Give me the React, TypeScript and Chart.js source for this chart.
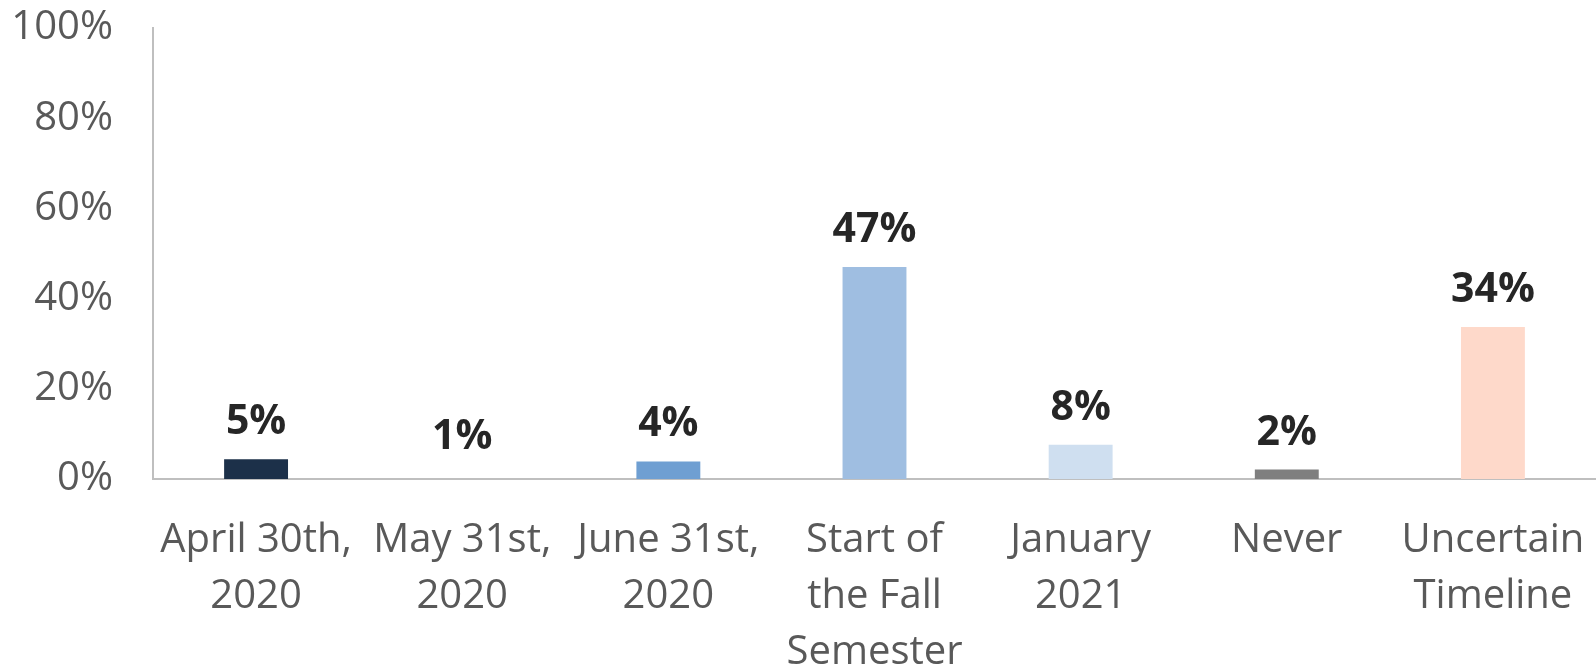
import React, { useEffect, useRef } from "react";
import { Chart, registerables } from "chart.js";

Chart.register(...registerables);

const categories: string[][] = [
  ["April 30th,", "2020"],
  ["May 31st,", "2020"],
  ["June 31st,", "2020"],
  ["Start of", "the Fall", "Semester"],
  ["January", "2021"],
  ["Never"],
  ["Uncertain", "Timeline"],
];
const values: number[] = [4.4, 1, 3.9, 47, 7.6, 2.1, 33.7];
const valueLabels: string[] = ["5%", "1%", "4%", "47%", "8%", "2%", "34%"];
const barColors: string[] = [
  "#1c3049",
  "rgba(255,255,255,0)",
  "#6f9fd2",
  "#9fbee1",
  "#cfdff0",
  "#7f7f7f",
  "#fed9ca",
];
const yTicks = { min: 0, max: 100, step: 20 };

const FONT = "'Open Sans', 'Noto Sans', sans-serif";

export default function App() {
  const ref = useRef<HTMLCanvasElement | null>(null);

  useEffect(() => {
    document.body.style.margin = "0";
    if (!ref.current) return;
    const labelPlugin = {
      id: "valueLabels",
      afterDatasetsDraw(chart: any) {
        const ctx = chart.ctx;
        const meta = chart.getDatasetMeta(0);
        ctx.save();
        ctx.font = `bold 41px ${FONT}`;
        ctx.fillStyle = "#262626";
        ctx.textAlign = "center";
        ctx.textBaseline = "alphabetic";
        meta.data.forEach((el: any, i: number) => {
          ctx.fillText(valueLabels[i], el.x, el.y - 25);
        });
        ctx.restore();
      },
    };
    const chart = new Chart(ref.current, {
      type: "bar",
      data: {
        labels: categories,
        datasets: [
          {
            data: values,
            backgroundColor: barColors,
            barPercentage: 0.31,
            categoryPercentage: 1,
          },
        ],
      },
      options: {
        animation: false,
        responsive: true,
        maintainAspectRatio: false,
        layout: { padding: { top: 28, right: 0, left: 0, bottom: 0 } },
        plugins: { legend: { display: false }, tooltip: { enabled: false } },
        scales: {
          x: {
            grid: { display: false, drawTicks: false },
            border: { display: true, color: "#bfbfbf", width: 2 },
            ticks: {
              color: "#595959",
              font: { family: FONT, size: 40, lineHeight: 1.4 },
              padding: 34,
              maxRotation: 0,
              autoSkip: false,
            },
            afterFit: (s: any) => {
              s.height = 192;
              s.paddingLeft = 0;
              s.paddingRight = 0;
            },
          },
          y: {
            min: yTicks.min,
            max: yTicks.max,
            grid: { display: false, drawTicks: false },
            border: { display: true, color: "#bfbfbf", width: 2 },
            ticks: {
              stepSize: yTicks.step,
              color: "#595959",
              font: { family: FONT, size: 40 },
              padding: 40,
              callback: (v: any) => v + "%",
            },
            afterFit: (s: any) => {
              s.width = 153;
              s.paddingTop = 0;
              s.paddingBottom = 0;
            },
          },
        },
      },
      plugins: [labelPlugin],
    });
    return () => chart.destroy();
  }, []);

  return (
    <div style={{ width: 1596, height: 671, position: "relative" }}>
      <canvas ref={ref} />
    </div>
  );
}
